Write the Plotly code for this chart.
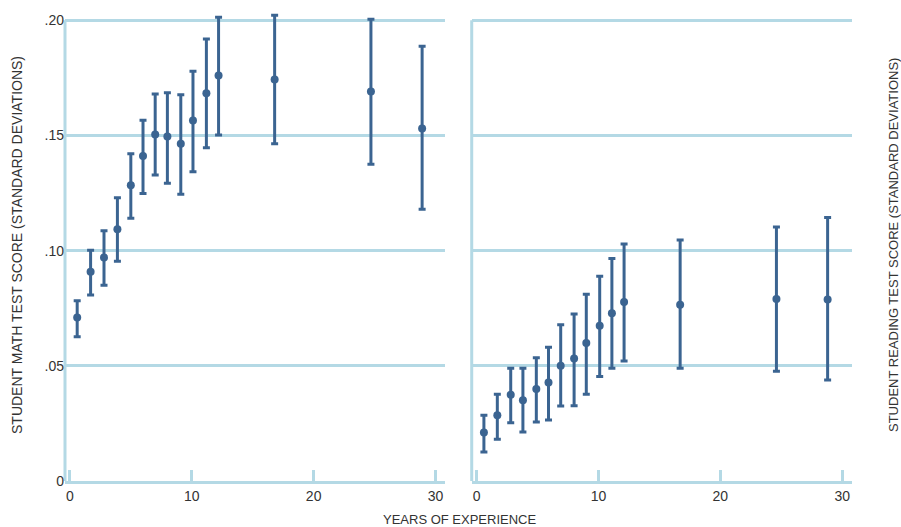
import plotly.graph_objects as go

# ---- data ----
years = [0.6, 1.7, 2.8, 3.9, 5.0, 6.0, 7.0, 8.0, 9.1, 10.1, 11.2, 12.2, 16.8, 24.7, 28.9]
years_read = [0.6, 1.7, 2.8, 3.8, 4.9, 5.9, 6.9, 8.0, 9.0, 10.1, 11.1, 12.1, 16.7, 24.6, 28.8]

math_score = [0.0710, 0.0908, 0.0970, 0.1093, 0.1284, 0.1411, 0.1504, 0.1495, 0.1464,
              0.1565, 0.1683, 0.1760, 0.1743, 0.1691, 0.1530]
math_upper = [0.0782, 0.1002, 0.1086, 0.1229, 0.1420, 0.1566, 0.1680, 0.1685, 0.1676,
              0.1779, 0.1918, 0.2013, 0.2022, 0.2004, 0.1887]
math_lower = [0.0626, 0.0807, 0.0850, 0.0954, 0.1140, 0.1248, 0.1328, 0.1292, 0.1245,
              0.1342, 0.1446, 0.1502, 0.1464, 0.1375, 0.1179]

read_score = [0.0210, 0.0285, 0.0374, 0.0351, 0.0399, 0.0428, 0.0500, 0.0532, 0.0599,
              0.0674, 0.0728, 0.0777, 0.0765, 0.0790, 0.0788]
read_upper = [0.0285, 0.0377, 0.0489, 0.0489, 0.0535, 0.0580, 0.0678, 0.0725, 0.0811,
              0.0889, 0.0966, 0.1029, 0.1046, 0.1102, 0.1144]
read_lower = [0.0126, 0.0181, 0.0253, 0.0213, 0.0256, 0.0265, 0.0325, 0.0327, 0.0377,
              0.0454, 0.0489, 0.0521, 0.0489, 0.0476, 0.0438]

x_ticks = [0, 10, 20, 30]
x_ticktext = ["0", "10", "20", "30"]
y_ticks = [0, 0.05, 0.10, 0.15, 0.20]
y_ticktext = ["0", ".05", ".10", ".15", ".20"]
Y_TOP = 0.20

MARK = "#3b6491"
GRID = "#b4d9e5"
TEXT = "#333333"
FONT = "Liberation Sans, Arial, sans-serif"

W, H = 901, 527
l, r, t, b = 65, 49, 11, 46
pw, ph = W - l - r, H - t - b


def px(xp):
    return (xp - l) / pw


def py(yp):
    return (H - b - yp) / ph


def err_trace(x, y, up, lo, xa, ya):
    return go.Scatter(
        x=x, y=y, mode="markers", xaxis=xa, yaxis=ya, cliponaxis=False,
        marker=dict(color=MARK, size=8),
        error_y=dict(type="data", symmetric=False,
                     array=[u - v for u, v in zip(up, y)],
                     arrayminus=[v - lo_ for v, lo_ in zip(y, lo)],
                     color=MARK, thickness=3, width=3.5),
        showlegend=False, hoverinfo="skip",
    )


fig = go.Figure()
fig.add_trace(err_trace(years, math_score, math_upper, math_lower, "x", "y"))
fig.add_trace(err_trace(years_read, read_score, read_upper, read_lower, "x2", "y2"))

xcommon = dict(range=[-0.4, 30.8], tickvals=x_ticks, ticktext=x_ticktext,
               showgrid=False, zeroline=False, showline=True, linecolor=GRID,
               linewidth=3, ticks="inside", ticklen=11, tickwidth=3, tickcolor=GRID,
               tickfont=dict(family=FONT, size=14, color=TEXT))
ycommon = dict(range=[0, 0.204], tickvals=y_ticks, ticktext=y_ticktext,
               showgrid=True, gridcolor=GRID, gridwidth=3, zeroline=False,
               showline=False, ticks="")

fig.update_layout(
    width=W, height=H,
    margin=dict(l=l, r=r, t=t, b=b),
    paper_bgcolor="white", plot_bgcolor="white",
    font=dict(family=FONT, color=TEXT),
    xaxis=dict(domain=[0, 0.4832], anchor="y", **xcommon),
    xaxis2=dict(domain=[0.5168, 1], anchor="y2", **xcommon),
    yaxis=dict(domain=[0, 1], anchor="x", tickfont=dict(family=FONT, size=14, color=TEXT),
               **ycommon),
    yaxis2=dict(domain=[0, 1], anchor="x2", showticklabels=False, **ycommon),
)

# vertical axis lines, stopping at the top gridline
for xr, yr in (("x domain", "y"), ("x2 domain", "y2")):
    fig.add_shape(type="line", xref=xr, yref=yr, x0=0, x1=0, y0=0, y1=Y_TOP,
                  line=dict(color=GRID, width=3), layer="below")

fig.add_annotation(text="STUDENT MATH TEST SCORE (STANDARD DEVIATIONS)", textangle=-90,
                   x=px(17), y=py(245), xref="paper", yref="paper", showarrow=False,
                   xanchor="center", yanchor="middle",
                   font=dict(family=FONT, size=14, color=TEXT))
fig.add_annotation(text="STUDENT READING TEST SCORE (STANDARD DEVIATIONS)", textangle=-90,
                   x=px(893), y=py(245), xref="paper", yref="paper", showarrow=False,
                   xanchor="center", yanchor="middle",
                   font=dict(family=FONT, size=13, color=TEXT))
fig.add_annotation(text="YEARS OF EXPERIENCE",
                   x=px(459), y=py(519), xref="paper", yref="paper", showarrow=False,
                   xanchor="center", yanchor="middle",
                   font=dict(family=FONT, size=13, color=TEXT))

fig.write_html("out.html", config={"displayModeBar": False},
               post_script="document.body.style.margin='0';document.body.style.overflow='hidden';")
